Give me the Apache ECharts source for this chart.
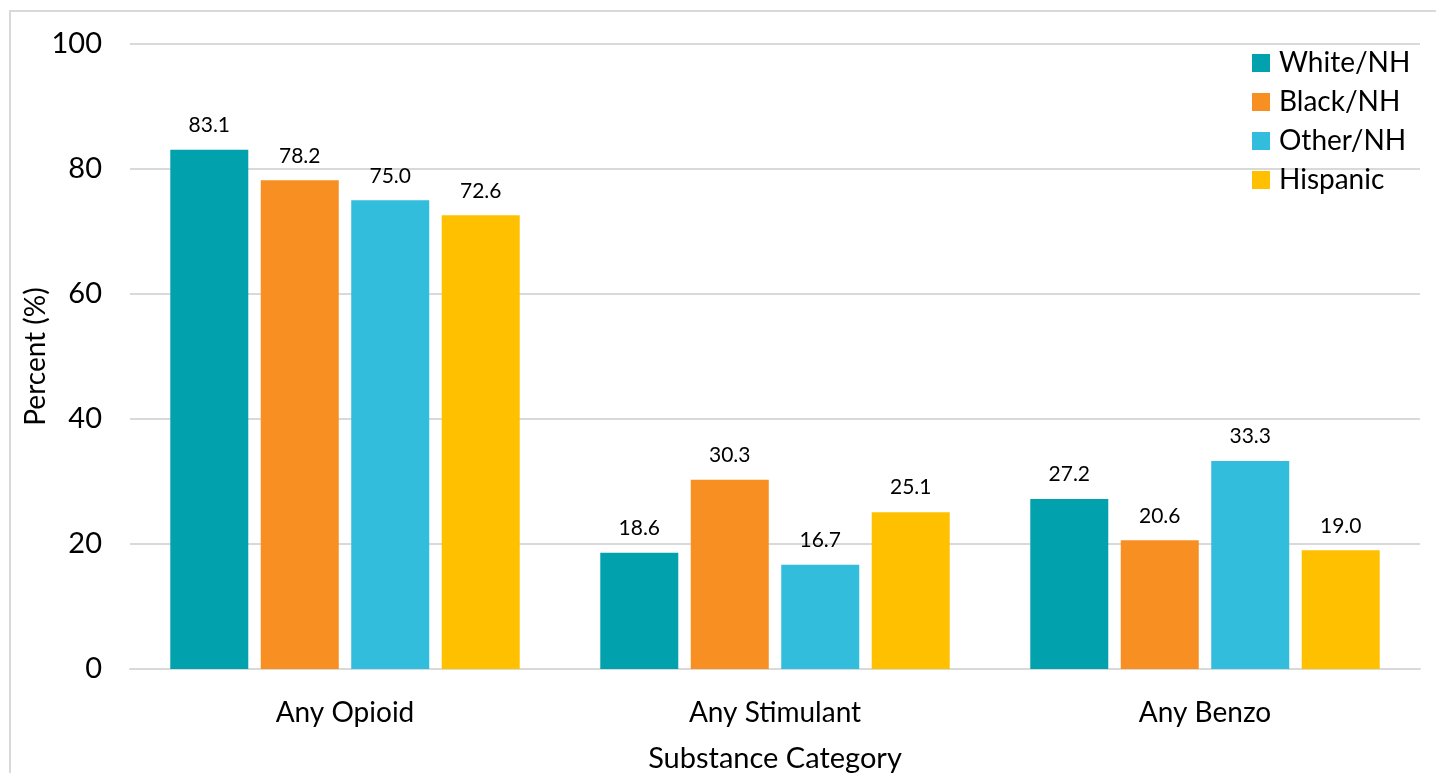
<!DOCTYPE html>
<html>
<head>
<meta charset="utf-8">
<style>
  html, body { margin: 0; padding: 0; background: #fff; overflow: hidden; width: 1436px; height: 773px; }
  #frame { position: absolute; left: 9px; top: 10px; width: 1427px; height: 763px; border-left: 2px solid #d9d9d9; border-top: 2px solid #d9d9d9; box-sizing: border-box; }
  #chart { position: absolute; left: 0; top: 0; width: 1436px; height: 773px; }
</style>
<script src="https://cdn.jsdelivr.net/npm/echarts@6/dist/echarts.min.js"></script>
</head>
<body>
<div id="frame"></div>
<div id="chart"></div>
<script>
const categories = ['Any Opioid', 'Any Stimulant', 'Any Benzo'];
const seriesNames = ['White/NH', 'Black/NH', 'Other/NH', 'Hispanic'];
const whiteNH = [83.1, 18.6, 27.2];
const blackNH = [78.2, 30.3, 20.6];
const otherNH = [75.0, 16.7, 33.3];
const hispanic = [72.6, 25.1, 19.0];
const colors = ['#02A1AE', '#F78F22', '#31BDDB', '#FFC000'];
const yTicks = [0, 20, 40, 60, 80, 100];

const values = [whiteNH, blackNH, otherNH, hispanic];
const FONT = 'Lato, "Noto Sans", sans-serif';

const chart = echarts.init(document.getElementById('chart'));
chart.setOption({
  animation: false,
  textStyle: { fontFamily: FONT },
  grid: { left: 130, right: 16, top: 44, bottom: 104, containLabel: false, outerBoundsMode: 'none' },
  legend: {
    orient: 'vertical',
    left: 1247,
    top: 44,
    itemWidth: 18,
    itemHeight: 18,
    itemGap: 11,
    icon: 'rect',
    textStyle: { fontSize: 28, color: '#000', fontFamily: FONT, padding: [0, 0, 0, 4] },
    data: seriesNames
  },
  xAxis: {
    type: 'category',
    data: categories,
    name: 'Substance Category',
    nameLocation: 'middle',
    nameGap: 75,
    nameMoveOverlap: false,
    nameTextStyle: { fontSize: 29, color: '#000', fontFamily: FONT },
    axisLine: { show: true, lineStyle: { color: '#d9d9d9', width: 2 } },
    axisTick: { show: false },
    axisLabel: { fontSize: 28, color: '#000', margin: 30, fontFamily: FONT }
  },
  yAxis: {
    type: 'value',
    min: yTicks[0],
    max: yTicks[yTicks.length - 1],
    interval: 20,
    name: 'Percent (%)',
    nameLocation: 'middle',
    nameGap: 80,
    nameMoveOverlap: false,
    nameTextStyle: { fontSize: 28, color: '#000', fontFamily: FONT },
    axisLine: { show: false },
    axisTick: { show: false },
    axisLabel: { fontSize: 29, color: '#000', margin: 28, fontFamily: FONT },
    splitLine: { lineStyle: { color: '#d9d9d9', width: 2 } }
  },
  series: seriesNames.map((name, i) => ({
    name,
    type: 'bar',
    data: values[i],
    barWidth: 78,
    barGap: '16%',
    itemStyle: { color: colors[i] },
    label: {
      show: true,
      position: 'top',
      distance: 14,
      fontSize: 21,
      color: '#000',
      fontFamily: FONT,
      formatter: p => p.value.toFixed(1)
    }
  }))
});
</script>
</body>
</html>
